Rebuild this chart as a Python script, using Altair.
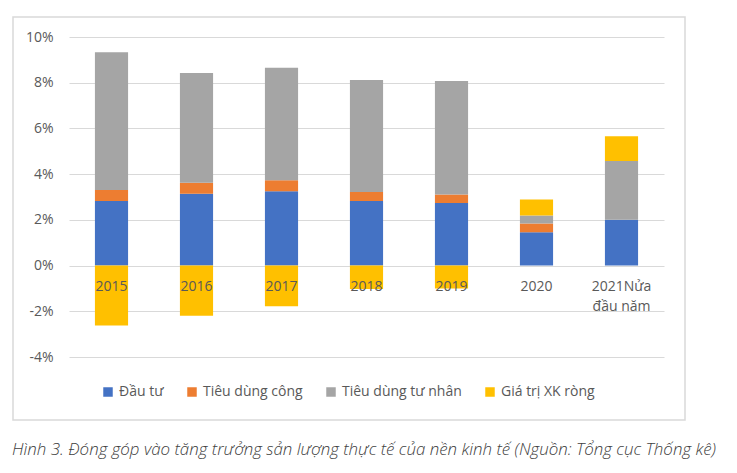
import altair as alt
import pandas as pd

categories = ["2015", "2016", "2017", "2018", "2019", "2020", "2021Nửa đầu năm"]
series = ["Đầu tư", "Tiêu dùng công", "Tiêu dùng tư nhân", "Giá trị XK ròng"]
colors = ["#4472C4", "#ED7D31", "#A5A5A5", "#FFC000"]
dau_tu = [2.83, 3.14, 3.25, 2.83, 2.74, 1.46, 2.01]
tieu_dung_cong = [0.48, 0.48, 0.48, 0.39, 0.37, 0.38, 0.0]
tieu_dung_tu_nhan = [6.02, 4.81, 4.93, 4.90, 4.97, 0.35, 2.57]
xk_rong = [-2.62, -2.19, -1.78, -1.02, -1.0, 0.70, 1.08]
y_ticks = [-4, -2, 0, 2, 4, 6, 8, 10]
caption = "Hình 3. Đóng góp vào tăng trưởng sản lượng thực tế của nền kinh tế (Nguồn: Tổng cục Thống kê)"

rows = []
for vals, s_idx in [(dau_tu, 0), (tieu_dung_cong, 1), (tieu_dung_tu_nhan, 2), (xk_rong, 3)]:
    for c, v in zip(categories, vals):
        rows.append({"cat": c, "series": series[s_idx], "order": s_idx, "value": v})
df = pd.DataFrame(rows)

FONT = "Open Sans"
GRAY = "#595959"

bars = alt.Chart(df).mark_bar().encode(
    x=alt.X("cat:N", sort=categories, title=None,
            scale=alt.Scale(paddingInner=0.61, paddingOuter=0.305),
            axis=alt.Axis(orient="bottom", offset=-91, domain=False, ticks=False,
                          labelAngle=0, labelPadding=13, labelFontSize=14,
                          labelColor=GRAY, labelFont=FONT, zindex=1,
                          labelLineHeight=20,
                          labelExpr="datum.label == '2021Nửa đầu năm' ? ['2021Nửa', 'đầu năm'] : datum.label")),
    y=alt.Y("value:Q", title=None, stack="zero",
            scale=alt.Scale(domain=[-4, 10], nice=False),
            axis=alt.Axis(values=y_ticks, domain=False, ticks=False, labelPadding=16,
                          labelFontSize=14, labelColor=GRAY, labelFont=FONT,
                          gridColor="#d9d9d9", gridWidth=1,
                          labelExpr="datum.value + '%'")),
    color=alt.Color("series:N", scale=alt.Scale(domain=series, range=colors),
                    legend=alt.Legend(title=None, orient="none", direction="horizontal",
                                      legendX=32, legendY=348, symbolType="square",
                                      symbolSize=90, symbolStrokeWidth=0,
                                      labelFontSize=14, labelColor=GRAY, labelFont=FONT,
                                      labelOffset=4, columnPadding=21)),
    order=alt.Order("order:Q"),
)

one = alt.Data(values=[{"a": 1}])

border = alt.Chart(one).mark_rect(filled=False, stroke="#d9d9d9", strokeWidth=1.5).encode(
    x=alt.value(-56), x2=alt.value(616), y=alt.value(-20), y2=alt.value(383)
)

cap = alt.Chart(one).mark_text(align="left", baseline="middle", fontStyle="italic",
                               font=FONT, fontSize=16.9, fontWeight=300, color="#404040").encode(
    x=alt.value(-57), y=alt.value(413), text=alt.value(caption)
)

chart = alt.layer(border, bars, cap).properties(
    width=595, height=320,
    autosize=alt.AutoSizeParams(type="none"),
    padding={"left": 69, "top": 37, "right": 73, "bottom": 116},
    background="white",
).configure_view(stroke=None)

chart.save("out.html", embed_options={"renderer": "svg", "actions": False})
